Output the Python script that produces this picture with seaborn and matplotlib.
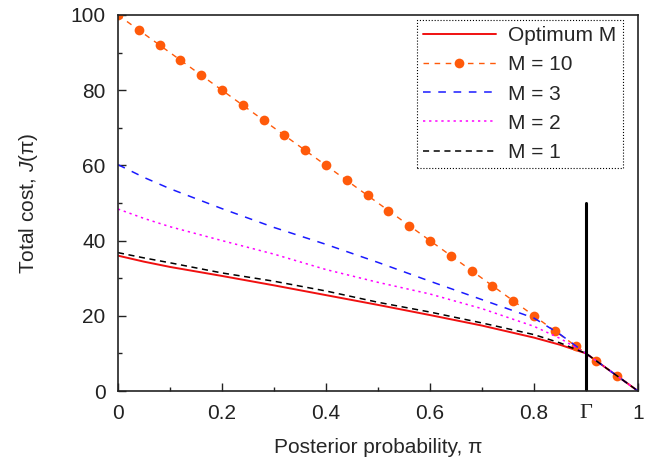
import numpy as np
import pandas as pd
import seaborn as sns
from matplotlib import pyplot as plt
from matplotlib.ticker import MultipleLocator

# dados
pi_grid = [0.0, 0.05, 0.1, 0.2, 0.3, 0.4, 0.5, 0.6, 0.7, 0.8, 0.85, 0.9, 1.0]
j_otimo = [36.0, 34.4, 33.0, 30.6, 28.1, 25.5, 22.9, 20.2, 17.4, 14.2, 12.3, 10.0, 0.0]
j_m3 = [60.2, 56.8, 53.8, 48.5, 43.5, 39.0, 34.2, 29.2, 24.3, 19.4, 15.1, 10.0, 0.0]
j_m2 = [48.4, 45.9, 43.7, 40.0, 36.4, 32.3, 28.9, 25.8, 21.9, 17.2, 14.0, 10.0, 0.0]
j_m1 = [36.8, 35.4, 34.1, 31.4, 29.2, 26.6, 23.6, 21.0, 18.1, 15.0, 12.8, 10.0, 0.0]

pi_m10 = [0.0, 0.04, 0.08, 0.12, 0.16, 0.2, 0.24, 0.28, 0.32, 0.36, 0.4, 0.44,
          0.48, 0.52, 0.56, 0.6, 0.64, 0.68, 0.72, 0.76, 0.8, 0.84, 0.88, 0.92, 0.96]
j_m10 = [100, 96, 92, 88, 84, 80, 76, 72, 68, 64, 60, 56,
         52, 48, 44, 40, 36, 32, 28, 24, 20, 16, 12, 8, 4]

gamma = 0.9
gamma_altura = 50

xticks = [0, 0.2, 0.4, 0.6, 0.8, gamma, 1]
xtick_labels = ['0', '0.2', '0.4', '0.6', '0.8', 'Γ', '1']

sns.set_style('ticks')
plt.rcParams['font.family'] = ['Liberation Sans', 'DejaVu Sans']
plt.rcParams['mathtext.fontset'] = 'custom'
plt.rcParams['mathtext.it'] = 'Liberation Sans:italic'
plt.rcParams['mathtext.rm'] = 'Liberation Sans'

fig = plt.figure(figsize=(6.65, 4.61), dpi=100)
ax = fig.add_axes([0.1774, 0.1518, 0.782, 0.8157])

df = pd.DataFrame({'pi': pi_grid, 'otimo': j_otimo, 'm3': j_m3, 'm2': j_m2, 'm1': j_m1})
df10 = pd.DataFrame({'pi': pi_m10, 'm10': j_m10})

sns.lineplot(data=df, x='pi', y='otimo', ax=ax, color='#f01010', lw=1.4, label='Optimum M')
sns.lineplot(data=df10, x='pi', y='m10', ax=ax, color='#ff5a0a', lw=1.0,
             linestyle=(0, (4, 4)), marker='o', markersize=7, markeredgewidth=0,
             label='M = 10')
sns.lineplot(data=df, x='pi', y='m3', ax=ax, color='#1a1aff', lw=1.1,
             linestyle=(0, (5, 5)), label='M = 3')
sns.lineplot(data=df, x='pi', y='m2', ax=ax, color='#ff00ff', lw=1.1,
             linestyle=(0, (1.5, 2.5)), label='M = 2')
sns.lineplot(data=df, x='pi', y='m1', ax=ax, color='black', lw=1.1,
             linestyle=(0, (4, 3)), label='M = 1')

# linha vertical no limiar Gamma
ax.plot([gamma, gamma], [0, gamma_altura], color='black', lw=2.2)

ax.set_xlim(0, 1)
ax.set_ylim(0, 100)
ax.set_xticks(xticks)
ax.set_xticklabels(xtick_labels)
ax.xaxis.set_minor_locator(MultipleLocator(0.1))
ax.yaxis.set_major_locator(MultipleLocator(20))
ax.yaxis.set_minor_locator(MultipleLocator(10))
ax.tick_params(which='both', direction='in', top=False, right=False, labelsize=15,
               colors='#222222')
ax.tick_params(which='major', length=6, width=1, pad=9)
ax.tick_params(which='minor', length=3, width=1)
for lbl in ax.get_xticklabels():
    if lbl.get_text() == 'Γ':
        lbl.set_fontfamily('Liberation Serif')
        lbl.set_fontsize(16)
for s in ax.spines.values():
    s.set_linewidth(1.2)
    s.set_color('#222222')

ax.set_xlabel('Posterior probability, π', fontsize=15, labelpad=11)
ax.set_ylabel(r'Total cost, $J$(π)', fontsize=15, labelpad=22)

leg = ax.legend(loc='upper right', bbox_to_anchor=(0.971, 0.987), fontsize=15,
                handlelength=3.5, labelspacing=0.49, fancybox=False, framealpha=1,
                borderpad=0.3, handletextpad=0.6, borderaxespad=0)
leg.get_frame().set_linestyle(':')
leg.get_frame().set_edgecolor('black')
leg.get_frame().set_linewidth(0.8)

fig.savefig('out.png', dpi=100)
